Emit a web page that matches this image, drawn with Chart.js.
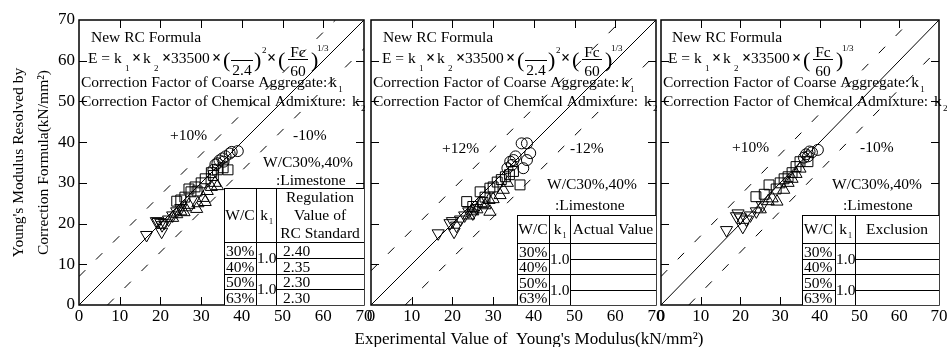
<!DOCTYPE html>
<html lang="en">
  <head>
    <meta charset="UTF-8" />
    <title>Young's Modulus by Correction Formula</title>
    <script src="https://cdn.jsdelivr.net/npm/chart.js"></script>
    <style>
      body {
        margin: 0;
        background-color: #fff;
      }
      #wrap {
        position: relative;
        width: 947px;
        height: 347px;
      }
      #wrap canvas {
        position: absolute;
        left: 0;
        top: 0;
      }
    </style>
  </head>
  <body>
    <div id="wrap">
      <canvas id="regulation" width="947" height="347"></canvas>
      <canvas id="actual" width="947" height="347"></canvas>
      <canvas id="exclusion" width="947" height="347"></canvas>
    </div>

    <script>
      // axes
      const axisMin = 0;
      const axisMax = 70;
      const tickStep = 10;

      // +/- band around the 1:1 line, in kN/mm2
      const bandOffsets = [7, 8.4, 7];
      const bandLabels = [
        ["+10%", "-10%"],
        ["+12%", "-12%"],
        ["+10%", "-10%"],
      ];

      // table contents
      const wcRows = ["30%", "40%", "50%", "63%"];
      const k1Values = ["1.0", "1.0"];
      const standardValues = ["2.40", "2.35", "2.30", "2.30"];
      const tableHeads = [
        ["Regulation", "Value of", "RC Standard"],
        ["Actual Value"],
        ["Exclusion"],
      ];

      // [experimental, by formula] - regulation value of RC standard
      const regCircle = [[33.5, 34.5], [34.5, 35.5], [35.2, 36], [36, 36.5], [37, 37.2], [37.5, 37.6], [39, 37.8], [35.5, 35.2], [33, 33.2], [34, 34.8]];
      const regSquare = [[24, 25.5], [27, 28.5], [27.5, 27.8], [28.5, 29], [30, 30], [31, 31], [32.5, 32.5], [34, 33.2], [35.4, 33.7], [36.6, 33.2], [33, 31.8], [29, 28], [26, 26.5], [25, 25.8]];
      const regTriUp = [[23, 21.4], [24, 22.3], [25, 23], [26, 24], [27, 24.6], [28.9, 23.6], [29.2, 25], [30.5, 26.3], [31, 25.3], [31.5, 28], [32.5, 29], [33.4, 30], [34, 29.2], [25.8, 22.8]];
      const regTriDown = [[16.6, 17.2], [19, 20.6], [19.4, 20.4], [20.1, 20.2], [20.4, 19.6], [20.3, 18], [21, 20.2], [22, 21], [23, 22], [24, 23], [25, 23.8]];

      // actual value
      const actCircle = [[37, 39.7], [38.3, 39.7], [39.1, 37.3], [38.3, 35.6], [37.4, 33.6], [35, 35.6], [34.6, 34.4], [33.5, 33.6], [34.2, 35.2], [35.5, 36.5]];
      const actSquare = [[35, 32.8], [36.6, 29.5], [26.8, 27.8], [23.5, 25.4], [29.2, 28.7], [28, 26.5], [30, 29], [31, 30.2], [33, 31.5], [27.5, 25.2], [25, 24.2], [32, 30.8], [34, 32]];
      const actTriUp = [[29.2, 22.9], [31.7, 27], [32.5, 28.3], [26, 23.5], [27, 25], [25, 23], [30, 26], [28, 24.5], [24, 22], [33.5, 30], [29, 25.8]];
      const actTriDown = [[16.5, 17.6], [20.4, 18], [19.4, 20.1], [20, 20.6], [21, 19.5], [22, 21], [23, 22], [24, 23], [25, 22.5], [26, 23.8]];

      // exclusion
      const excCircle = [[39.5, 38.1], [37.4, 37.7], [36.5, 37], [37, 36.5], [38, 37.5], [36, 36.2]];
      const excSquare = [[35, 35.2], [37, 35.2], [33, 32.5], [27.2, 29.5], [23.9, 26.6], [30, 30], [31, 31], [34, 34], [26, 27.2], [29, 28.5], [32, 31.5]];
      const excTriUp = [[29.2, 25.4], [30.9, 28.3], [33, 31], [32, 30], [34, 32.2], [27, 25.5], [25, 23.5], [28, 26.2], [35, 33.5]];
      const excTriDown = [[16.5, 18.4], [20.6, 19.2], [19.4, 22.5], [20, 21.5], [21.5, 21], [22.5, 22], [24, 23], [25.5, 24.5], [19, 21.8]];

      const panelData = [
        [regCircle, regSquare, regTriUp, regTriDown],
        [actCircle, actSquare, actTriUp, actTriDown],
        [excCircle, excSquare, excTriUp, excTriDown],
      ];

      const serif = "'Liberation Serif', 'Times New Roman', serif";
      const txtSize = 15.5;

      // where each panel sits on the page
      const panelBox = [
        { left: 79, right: 364, eqX: 9, headX: 12, table: { w: 140, c1: 32, c2: 52, top: 117, head: 63 } },
        { left: 371, right: 656, eqX: 11, headX: 12, table: { w: 139, c1: 32, c2: 53, top: 90, head: 62 } },
        { left: 661, right: 945, eqX: 7, headX: 11, table: { w: 137, c1: 33, c2: 53, top: 90, head: 62 } },
      ];
      const labelPos = [
        { plus: [91, 120], minus: [214, 120], wc: [184, 147], lime: [197, 165] },
        { plus: [71, 133], minus: [199, 133], wc: [176, 169], lime: [184, 190] },
        { plus: [71, 132], minus: [199, 132], wc: [171, 169], lime: [182, 190] },
      ];

      function toPoints(arr) {
        return arr.map((p) => ({ x: p[0], y: p[1] }));
      }

      function txt(ctx, s, x, y, size, align, weight) {
        ctx.font = (weight ? weight + " " : "") + (size || txtSize) + "px " + serif;
        ctx.textAlign = align || "left";
        ctx.textBaseline = "alphabetic";
        ctx.fillText(s, x, y);
        return ctx.measureText(s).width;
      }
      function times(ctx, x, y) {
        txt(ctx, "\u00d7", x, y, 16, "left", "bold");
      }

      function hline(ctx, x1, x2, y) {
        ctx.moveTo(x1, Math.round(y) + 0.5);
        ctx.lineTo(x2, Math.round(y) + 0.5);
      }
      function vline(ctx, x, y1, y2) {
        ctx.moveTo(Math.round(x) + 0.5, y1);
        ctx.lineTo(Math.round(x) + 0.5, y2);
      }

      function drawFormula(ctx, x, y, withDensity) {
        txt(ctx, "E = k", x, y);
        txt(ctx, "1", x + 37, y + 8, 9);
        times(ctx, x + 44, y);
        txt(ctx, "k", x + 55, y);
        txt(ctx, "2", x + 66, y + 8, 9);
        times(ctx, x + 74, y);
        txt(ctx, "33500", x + 83, y);
        times(ctx, x + 124, y);
        let cx = x + 135;
        ctx.lineWidth = 1;
        if (withDensity) {
          txt(ctx, "(", cx, y + 4, 22);
          ctx.beginPath();
          hline(ctx, cx + 8, cx + 30, y - 3);
          ctx.stroke();
          txt(ctx, "2.4", cx + 19, y + 12, txtSize, "center");
          txt(ctx, ")", cx + 31, y + 4, 22);
          txt(ctx, "2", cx + 39, y - 10, 9);
          times(ctx, x + 179, y);
          cx += 55;
        }
        txt(ctx, "(", cx, y + 4, 22);
        ctx.beginPath();
        hline(ctx, cx + 10, cx + 30, y - 4);
        ctx.stroke();
        txt(ctx, "Fc", cx + 20, y - 6, txtSize, "center");
        txt(ctx, "60", cx + 20, y + 13, txtSize, "center");
        txt(ctx, ")", cx + 33, y + 4, 22);
        txt(ctx, "1/3", cx + 39, y - 12, 9);
      }

      function drawTable(ctx, area, i) {
        const t = panelBox[i].table;
        const R = area.right;
        const B = area.bottom;
        const x0 = R - t.w;
        const x1 = x0 + t.c1;
        const x2 = x0 + t.c2;
        const yTop = B - t.top;
        const yHead = B - t.head;
        const rowH = (B - yHead) / 4;
        const rowY = [0, 1, 2, 3, 4].map((r) => yHead + r * rowH);

        ctx.fillStyle = "#fff";
        ctx.fillRect(x0, yTop, R - x0, B - yTop);
        ctx.strokeStyle = "#000";
        ctx.lineWidth = 1;
        ctx.beginPath();
        vline(ctx, x0, yTop, B);
        vline(ctx, x1, yTop, B);
        vline(ctx, x2, yTop, B);
        hline(ctx, x0, R, yTop);
        hline(ctx, x0, R, yHead);
        hline(ctx, x0, R, rowY[2]);
        [1, 3].forEach((r) => {
          hline(ctx, x0, x1, rowY[r]);
          hline(ctx, x2, R, rowY[r]);
        });
        ctx.stroke();

        ctx.fillStyle = "#000";
        const mid = (yTop + yHead) / 2 + 5;
        txt(ctx, "W/C", (x0 + x1) / 2, mid, txtSize, "center");
        txt(ctx, "k", (x1 + x2) / 2 - 2, mid, txtSize, "center");
        txt(ctx, "1", (x1 + x2) / 2 + 3, mid + 4, 8);
        const head = tableHeads[i];
        head.forEach((line, j) => {
          txt(ctx, line, (x2 + R) / 2, mid + (j - (head.length - 1) / 2) * 18, txtSize, "center");
        });
        wcRows.forEach((w, r) => {
          txt(ctx, w, x0 + 2, rowY[r + 1] - 2);
          if (i === 0) txt(ctx, standardValues[r], x2 + 7, rowY[r + 1] - 2);
        });
        k1Values.forEach((k, r) => {
          txt(ctx, k, x1 + 1, (rowY[2 * r] + rowY[2 * r + 2]) / 2 + 5);
        });
      }

      function panelPlugin(i) {
        return {
          id: "panelDecor" + i,
          afterDatasetsDraw(chart) {
            const ctx = chart.ctx;
            const area = chart.chartArea;
            const xs = chart.scales.x;
            const ys = chart.scales.y;
            const L = area.left;
            const T = area.top;
            ctx.save();
            ctx.fillStyle = "#000";
            ctx.strokeStyle = "#000";

            // frame and inward ticks on all four sides
            ctx.lineWidth = 1.5;
            ctx.strokeRect(area.left, area.top, area.right - area.left, area.bottom - area.top);
            ctx.lineWidth = 1;
            ctx.beginPath();
            for (let v = axisMin + tickStep; v < axisMax; v += tickStep) {
              const px = xs.getPixelForValue(v);
              const py = ys.getPixelForValue(v);
              vline(ctx, px, area.bottom, area.bottom - 8);
              vline(ctx, px, area.top, area.top + 8);
              hline(ctx, area.left, area.left + 8, py);
              hline(ctx, area.right, area.right - 8, py);
            }
            ctx.stroke();

            // formula block
            const box = panelBox[i];
            txt(ctx, "New RC Formula", L + box.headX, T + 22);
            drawFormula(ctx, L + box.eqX, T + 43, i !== 2);
            let w = txt(ctx, "Correction Factor of Coarse Aggregate:", L + 2, T + 67);
            txt(ctx, "k", L + 4 + w, T + 67);
            txt(ctx, "1", L + 4 + w + 9, T + 72, 9);
            w = txt(ctx, "Correction Factor of Chemical Admixture: ", L + 2, T + 86);
            txt(ctx, "k", L + 4 + w, T + 86);
            txt(ctx, "2", L + 4 + w + 9, T + 91, 9);

            // band labels and note
            const lp = labelPos[i];
            txt(ctx, bandLabels[i][0], L + lp.plus[0], T + lp.plus[1]);
            txt(ctx, bandLabels[i][1], L + lp.minus[0], T + lp.minus[1]);
            txt(ctx, "W/C30%,40%", L + lp.wc[0], T + lp.wc[1]);
            txt(ctx, ":Limestone", L + lp.lime[0], T + lp.lime[1]);

            drawTable(ctx, area, i);

            if (i === 1) {
              txt(ctx, "Experimental Value of  Young's Modulus(kN/mm\u00b2)", 529, 344, 17, "center");
            }
            ctx.restore();
          },
        };
      }

      function makePanel(i) {
        const off = bandOffsets[i];
        const [circ, sq, up, down] = panelData[i];
        const box = panelBox[i];
        const marker = (data, style, radius, rotation) => ({
          type: "scatter",
          data: toPoints(data),
          pointStyle: style,
          pointRadius: radius,
          pointRotation: rotation || 0,
          borderColor: "#000",
          backgroundColor: "rgba(0,0,0,0)",
          borderWidth: 1,
        });
        const refLine = (pts, dash) => ({
          type: "line",
          data: toPoints(pts),
          borderColor: "#000",
          borderWidth: 1,
          borderDash: dash,
          pointRadius: 0,
          fill: false,
        });

        const yScale = {
          type: "linear",
          min: axisMin,
          max: axisMax,
          display: true,
          grid: { display: false, drawTicks: false },
          border: { display: false },
          ticks: {
            display: i === 0,
            stepSize: tickStep,
            color: "#000",
            padding: 4,
            font: { family: serif, size: 17 },
          },
          title: {
            display: i === 0,
            text: ["Young's Modulus Resolved by", "Correction Formula(kN/mm\u00b2)"],
            color: "#000",
            font: { family: serif, size: txtSize, lineHeight: 1.65 },
            padding: { top: 6, bottom: 0 },
          },
          afterFit(s) {
            s.width = box.left;
          },
        };

        return new Chart(document.getElementById(panelIds[i]), {
          type: "scatter",
          data: {
            datasets: [
              refLine([[axisMin, axisMin], [axisMax, axisMax]], []),
              refLine([[axisMin, axisMin + off], [axisMax - off, axisMax]], [9, 15]),
              refLine([[axisMin + off, axisMin], [axisMax, axisMax - off]], [9, 15]),
              marker(circ, "circle", 5.5),
              marker(sq, "rect", 7),
              marker(up, "triangle", 7),
              marker(down, "triangle", 7, 180),
            ],
          },
          options: {
            responsive: false,
            animation: false,
            layout: {
              padding: { left: 0, right: 947 - box.right, top: 20, bottom: 0 },
            },
            plugins: {
              legend: { display: false },
              tooltip: { enabled: false },
            },
            scales: {
              x: {
                type: "linear",
                min: axisMin,
                max: axisMax,
                grid: { display: false, drawTicks: false },
                border: { display: false },
                ticks: {
                  stepSize: tickStep,
                  color: "#000",
                  padding: 1,
                  maxRotation: 0,
                  font: { family: serif, size: 17 },
                },
                afterFit(s) {
                  s.height = 42;
                  s.paddingLeft = 0;
                  s.paddingRight = 0;
                },
              },
              y: yScale,
            },
          },
          plugins: [panelPlugin(i)],
        });
      }

      const panelIds = ["regulation", "actual", "exclusion"];
      panelIds.forEach((id, i) => makePanel(i));
    </script>
  </body>
</html>
